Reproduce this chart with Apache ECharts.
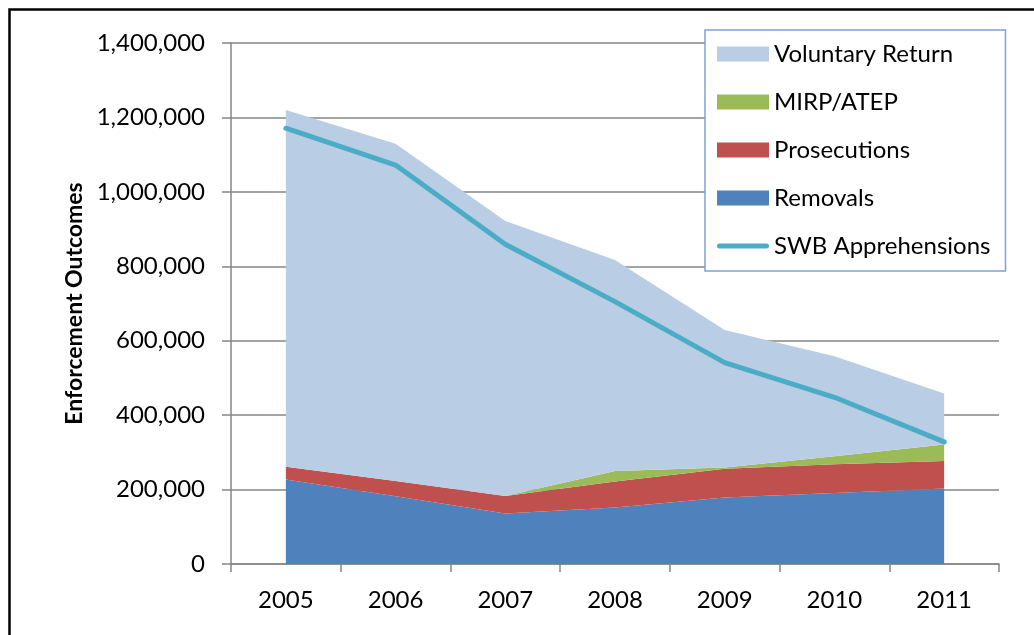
<!DOCTYPE html>
<html>
<head>
<meta charset="utf-8">
<script src="https://cdn.jsdelivr.net/npm/echarts@6/dist/echarts.min.js"></script>
<style>
html,body{margin:0;padding:0;background:#fff;}
#chart{width:1034px;height:635px;}
</style>
</head>
<body>
<div id="chart"></div>
<script>
const years = ['2005','2006','2007','2008','2009','2010','2011'];
const removals      = [227000, 182000, 136000, 152000, 179000, 191000, 203000];
const prosecutions  = [ 34000,  41000,  47000,  70000,  77000,  77000,  74000];
const mirpAtep      = [     0,      0,      0,  28000,   3500,  21500,  44000];
const voluntaryRet  = [959000, 906000, 739000, 567000, 369000, 269000, 137000];
const swbApprehensions = [1171000, 1072000, 859000, 705000, 541000, 448000, 328000];
const yTicks = [0, 200000, 400000, 600000, 800000, 1000000, 1200000, 1400000];

const FONT = 'Lato, "Open Sans", "DejaVu Sans", sans-serif';
const chart = echarts.init(document.getElementById('chart'), null, {renderer: 'canvas'});

function area(name, data, color) {
  return {
    name: name, type: 'line', stack: 'total', data: data,
    symbol: 'none', showSymbol: false,
    lineStyle: {width: 0, color: color},
    itemStyle: {color: color},
    areaStyle: {color: color, opacity: 1},
    emphasis: {disabled: true},
    silent: true
  };
}

const lineIcon = 'path://M0,0 M52,15 M2.5,5 L49.5,5 A2.5,2.5 0 0 1 49.5,10 L2.5,10 A2.5,2.5 0 0 1 2.5,5 Z';

chart.setOption({
  animation: false,
  backgroundColor: '#ffffff',
  grid: {left: 231, right: 35, top: 43, bottom: 71, containLabel: false},
  graphic: [{
    type: 'rect', left: 7, top: 7, z: 100, silent: true,
    shape: {width: 1040, height: 640},
    style: {fill: 'none', stroke: '#000000', lineWidth: 2.5}
  }],
  legend: {
    orient: 'vertical',
    left: 705, top: 30,
    padding: [12, 15, 13, 12],
    itemWidth: 52, itemHeight: 15, itemGap: 24,
    backgroundColor: '#ffffff',
    borderColor: '#7ea2d3', borderWidth: 1.5,
    textStyle: {fontFamily: FONT, fontSize: 24, color: '#000000'},
    data: [
      {name: 'Voluntary Return', icon: 'rect'},
      {name: 'MIRP/ATEP', icon: 'rect'},
      {name: 'Prosecutions', icon: 'rect'},
      {name: 'Removals', icon: 'rect'},
      {name: 'SWB Apprehensions', icon: lineIcon}
    ]
  },
  xAxis: {
    type: 'category', data: years, boundaryGap: true,
    axisLine: {lineStyle: {color: '#868686', width: 1.5}},
    axisTick: {show: true, length: 8, lineStyle: {color: '#868686', width: 1.5}},
    axisLabel: {fontFamily: FONT, fontSize: 24, color: '#000000', margin: 24},
    splitLine: {show: false}
  },
  yAxis: {
    type: 'value', min: yTicks[0], max: yTicks[yTicks.length-1], interval: 200000,
    name: 'Enforcement Outcomes', nameLocation: 'middle', nameGap: 145, nameRotate: 90,
    nameTextStyle: {fontFamily: FONT, fontSize: 23, fontWeight: 'bold', color: '#000000'},
    axisLine: {show: true, lineStyle: {color: '#868686', width: 1.5}},
    axisTick: {show: true, inside: false, length: 9, lineStyle: {color: '#868686', width: 1.5}},
    axisLabel: {fontFamily: FONT, fontSize: 24, color: '#000000', margin: 26,
      formatter: v => v.toLocaleString('en-US')},
    splitLine: {show: true, lineStyle: {color: '#868686', width: 1.5}}
  },
  series: [
    area('Removals', removals, '#4f81bd'),
    area('Prosecutions', prosecutions, '#c0504d'),
    area('MIRP/ATEP', mirpAtep, '#9bbb59'),
    area('Voluntary Return', voluntaryRet, '#b9cde5'),
    {
      name: 'SWB Apprehensions', type: 'line', data: swbApprehensions,
      symbol: 'none', showSymbol: false, z: 5,
      lineStyle: {width: 5, color: '#4bacc6', cap: 'round', join: 'round'},
      itemStyle: {color: '#4bacc6'},
      emphasis: {disabled: true}, silent: true
    }
  ]
});
</script>
</body>
</html>
